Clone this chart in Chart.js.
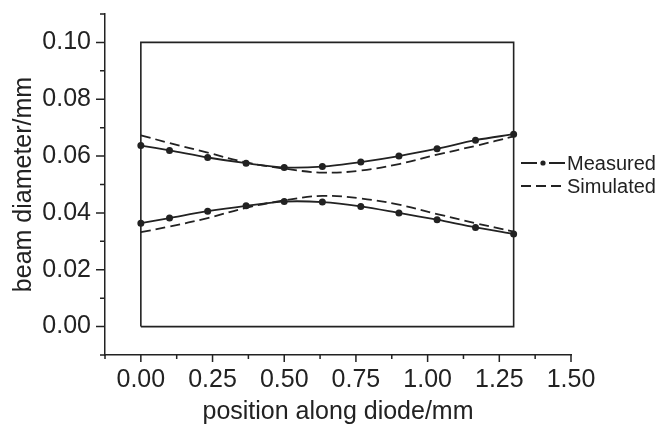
<!DOCTYPE html>
<html>
<head>
<meta charset="utf-8">
<script src="https://cdn.jsdelivr.net/npm/chart.js@4.4.1/dist/chart.umd.min.js"></script>
<style>
    html, body { margin: 0; padding: 0; background: #fff; }
</style>
</head>
<body>
<canvas id="graficoFeixe" width="661" height="433"></canvas>
<script>
// positions along the diode (mm)
const positions = [0, 0.1, 0.233, 0.367, 0.5, 0.633, 0.767, 0.9, 1.033, 1.167, 1.3];

// measured beam edges (mm)
const measuredUpper = [0.0637, 0.0620, 0.0595, 0.0575, 0.0560, 0.0563, 0.0579, 0.0600, 0.0626, 0.0656, 0.0677];
const measuredLower = [0.0364, 0.0382, 0.0406, 0.0425, 0.0440, 0.0438, 0.0423, 0.0400, 0.0376, 0.0349, 0.0326];

// simulated beam edges (mm)
const simulatedUpper = [0.0673, 0.0646, 0.0612, 0.0578, 0.0556, 0.0542, 0.0549, 0.0572, 0.0605, 0.0636, 0.0669];
const simulatedLower = [0.0332, 0.0352, 0.0382, 0.0418, 0.0444, 0.0460, 0.0451, 0.0429, 0.0396, 0.0364, 0.0334];

// diode outline
const diodeX = [0, 0, 1.3, 1.3, 0];
const diodeY = [0, 0.10, 0.10, 0, 0];

// ticks
const xMajor = [0, 0.25, 0.5, 0.75, 1.0, 1.25, 1.5];
const xMinor = [-0.125, 0.125, 0.375, 0.625, 0.875, 1.125, 1.375];
const yMajor = [0, 0.02, 0.04, 0.06, 0.08, 0.10];
const yMinor = [-0.01, 0.01, 0.03, 0.05, 0.07, 0.09, 0.11];

const legendItems = ['Measured', 'Simulated'];

const INK = '#222';
const FONT = 'Liberation Sans, Arial, Helvetica, sans-serif';

function pares(xs, ys) {
    return xs.map((x, i) => ({ x: x, y: ys[i] }));
}

function medido(ys) {
    return {
        data: pares(positions, ys),
        borderColor: INK,
        backgroundColor: INK,
        borderWidth: 1.8,
        pointRadius: 2.6,
        pointHoverRadius: 2.6,
        tension: 0.3
    };
}

function simulado(ys) {
    return {
        data: pares(positions, ys),
        borderColor: INK,
        borderWidth: 1.8,
        borderDash: [10, 5],
        pointRadius: 0,
        tension: 0.4
    };
}

// minor and major tick marks, pointing outward
const tickMarks = {
    id: 'tickMarks',
    afterDraw(chart) {
        const { ctx, scales: { x, y } } = chart;
        ctx.save();
        ctx.strokeStyle = INK;
        ctx.lineWidth = 1.5;
        ctx.beginPath();
        xMajor.forEach(v => {
            const p = x.getPixelForValue(v);
            ctx.moveTo(p, x.top); ctx.lineTo(p, x.top + 7);
        });
        xMinor.forEach(v => {
            const p = x.getPixelForValue(v);
            ctx.moveTo(p, x.top); ctx.lineTo(p, x.top + 4);
        });
        yMajor.forEach(v => {
            const p = y.getPixelForValue(v);
            ctx.moveTo(y.right, p); ctx.lineTo(y.right - 9, p);
        });
        yMinor.forEach(v => {
            const p = y.getPixelForValue(v);
            ctx.moveTo(y.right, p); ctx.lineTo(y.right - 5, p);
        });
        ctx.stroke();
        ctx.restore();
    }
};

// legend on the right side of the plot
const legenda = {
    id: 'legenda',
    afterDraw(chart) {
        const ctx = chart.ctx;
        const x0 = 521, x1 = 565;
        const rows = [163, 186];
        ctx.save();
        ctx.strokeStyle = INK;
        ctx.fillStyle = INK;
        ctx.lineWidth = 1.8;

        ctx.beginPath();
        ctx.moveTo(x0, rows[0]); ctx.lineTo(x0 + 16, rows[0]);
        ctx.moveTo(x1 - 16, rows[0]); ctx.lineTo(x1, rows[0]);
        ctx.stroke();
        ctx.beginPath();
        ctx.arc((x0 + x1) / 2, rows[0], 2.6, 0, Math.PI * 2);
        ctx.fill();

        ctx.setLineDash([10, 5]);
        ctx.beginPath();
        ctx.moveTo(x0, rows[1]); ctx.lineTo(x1, rows[1]);
        ctx.stroke();
        ctx.setLineDash([]);

        ctx.font = '20px ' + FONT;
        ctx.textAlign = 'left';
        ctx.textBaseline = 'middle';
        legendItems.forEach((t, i) => ctx.fillText(t, x1 + 2, rows[i] + 1));
        ctx.restore();
    }
};

const canvas = document.getElementById('graficoFeixe');

const graficoFeixe = new Chart(canvas, {
    type: 'line',
    data: {
        datasets: [
            {
                data: pares(diodeX, diodeY),
                borderColor: INK,
                borderWidth: 1.6,
                pointRadius: 0,
                tension: 0
            },
            medido(measuredUpper),
            medido(measuredLower),
            simulado(simulatedUpper),
            simulado(simulatedLower)
        ]
    },
    options: {
        responsive: false,
        animation: false,
        devicePixelRatio: 1,
        layout: { padding: { left: 0, right: 90, top: 14, bottom: 0 } },
        plugins: {
            legend: { display: false },
            tooltip: { enabled: false }
        },
        scales: {
            x: {
                type: 'linear',
                min: -0.125,
                max: 1.5,
                afterBuildTicks: s => { s.ticks = xMajor.map(v => ({ value: v })); },
                afterFit: s => { s.height = 78; s.paddingLeft = 0; s.paddingRight = 0; },
                grid: { display: false, drawTicks: false },
                border: { display: true, color: INK, width: 1.5 },
                ticks: {
                    color: INK,
                    padding: 10,
                    maxRotation: 0,
                    font: { family: FONT, size: 25 },
                    callback: v => v.toFixed(2)
                },
                title: {
                    display: true,
                    text: 'position along diode/mm',
                    color: INK,
                    font: { family: FONT, size: 25 },
                    padding: { top: 0, bottom: 6 }
                }
            },
            y: {
                type: 'linear',
                min: -0.01,
                max: 0.11,
                afterBuildTicks: s => { s.ticks = yMajor.map(v => ({ value: v })); },
                afterFit: s => { s.width = 105; s.paddingTop = 0; s.paddingBottom = 0; },
                grid: { display: false, drawTicks: false },
                border: { display: true, color: INK, width: 1.5 },
                ticks: {
                    color: INK,
                    padding: 14,
                    font: { family: FONT, size: 25 },
                    callback: v => v.toFixed(2)
                },
                title: {
                    display: true,
                    text: 'beam diameter/mm',
                    color: INK,
                    font: { family: FONT, size: 25 },
                    padding: { top: 9, bottom: 0 }
                }
            }
        }
    },
    plugins: [tickMarks, legenda]
});
</script>
</body>
</html>
